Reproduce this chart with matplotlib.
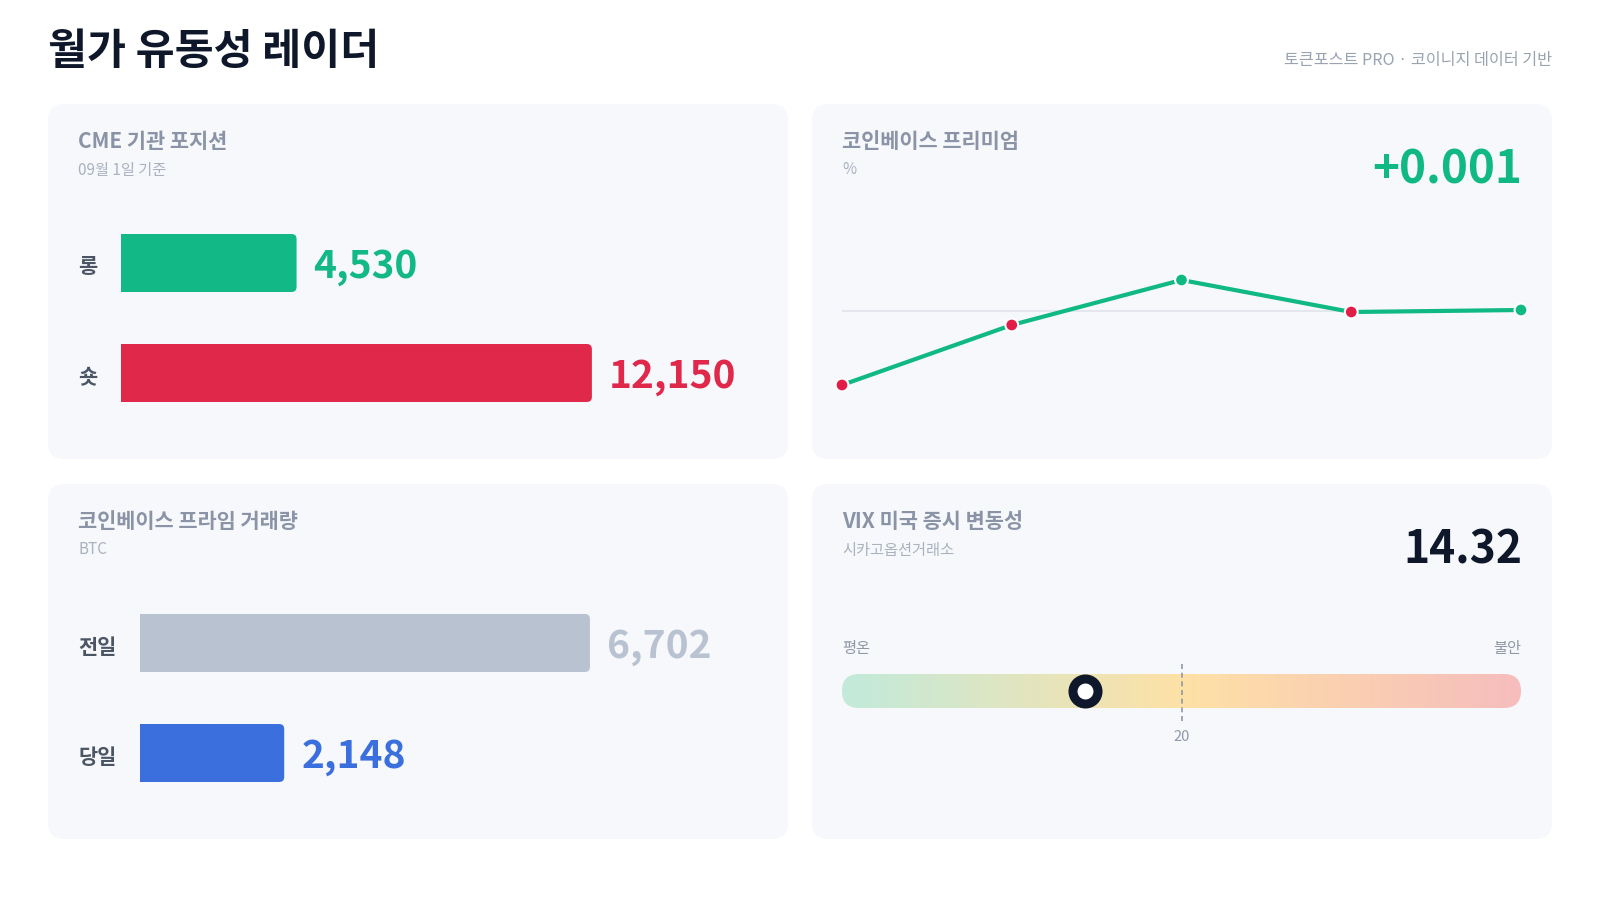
import numpy as np
import matplotlib.pyplot as plt
import matplotlib.transforms as mtransforms
from matplotlib.patches import FancyBboxPatch, Rectangle
from matplotlib.colors import LinearSegmentedColormap

plt.rcParams['font.family'] = ['Noto Sans CJK KR', 'DejaVu Sans']

W, H = 1600, 900

# data
title = '월가 유동성 레이더'
source = '토큰포스트 PRO · 코이니지 데이터 기반'

cme_title = 'CME 기관 포지션'
cme_sub = '09월 1일 기준'
cme_labels = ['롱', '숏']
cme_values = [4530, 12150]

prime_title = '코인베이스 프라임 거래량'
prime_sub = 'BTC'
prime_labels = ['전일', '당일']
prime_values = [6702, 2148]

prem_title = '코인베이스 프리미엄'
prem_sub = '%'
prem_values = [-0.074, -0.014, 0.031, -0.001, 0.001]
prem_latest = '+0.001'

vix_title = 'VIX 미국 증시 변동성'
vix_sub = '시카고옵션거래소'
vix_value = 14.32
vix_mid = 20
vix_lo, vix_hi = 0, 40
vix_ends = ['평온', '불안']

GREEN = '#12b886'
RED = '#e0284a'
NAVY = '#0f172a'
CARD = '#f6f8fc'
TITLE_C = '#8a94a6'
SUB_C = '#aab2bf'
LABEL_C = '#4b5563'
DY = 4  # CJK font sits a bit high with va='center'

fig = plt.figure(figsize=(16, 9), dpi=100)
fig.patch.set_facecolor('white')

bg = fig.add_axes([0, 0, 1, 1])
bg.set_xlim(0, W)
bg.set_ylim(H, 0)
bg.axis('off')


def px_axes(x0, y0, x1, y1):
    ax = fig.add_axes([x0 / W, 1 - y1 / H, (x1 - x0) / W, (y1 - y0) / H])
    ax.axis('off')
    ax.patch.set_alpha(0)
    return ax


def card(x, y, w, h, head, sub):
    bg.add_patch(FancyBboxPatch((x, y), w, h, boxstyle='round,pad=0,rounding_size=16',
                                fc=CARD, ec='none', zorder=0))
    bg.text(x + 30, y + 33 + DY, head, fontsize=15, fontweight='bold', color=TITLE_C, va='center')
    bg.text(x + 30, y + 62 + DY, sub, fontsize=11, color=SUB_C, va='center')


bg.text(48, 48 + DY, title, fontsize=30.5, fontweight='bold', color=NAVY, va='center')
bg.text(1552, 56 + DY, source, fontsize=11.7, color='#9aa3b2', va='center', ha='right')

card(48, 104, 740, 355, cme_title, cme_sub)
card(812, 104, 740, 355, prem_title, prem_sub)
card(48, 484, 740, 355, prime_title, prime_sub)
card(812, 484, 740, 355, vix_title, vix_sub)


def hbars(ax, labels, values, bar_colors, text_colors, x_px, scale):
    ax.set_ylim(1.5, -0.5)
    ax.set_xlim(0, max(values) * scale)
    bars = ax.barh(range(len(values)), values, height=0.527, color=bar_colors)
    fig.canvas.draw()
    bb = ax.get_window_extent()
    ux = (ax.get_xlim()[1] - ax.get_xlim()[0]) / bb.width
    uy = 2.0 / bb.height
    r = 5 * ux
    for b, c in zip(bars, bar_colors):
        x, y, w, h = b.get_x(), b.get_y(), b.get_width(), b.get_height()
        b.set_visible(False)
        ax.add_patch(FancyBboxPatch((x, y), w, h, boxstyle=f'round,pad=0,rounding_size={r}',
                                    mutation_aspect=uy / ux, fc=c, ec='none'))
        ax.add_patch(Rectangle((x, y), w / 2, h, fc=c, ec='none'))
    tr = mtransforms.blended_transform_factory(bg.transData, ax.transData)
    for i, (lab, v, tc) in enumerate(zip(labels, values, text_colors)):
        ax.annotate(lab, xy=(x_px, i), xycoords=tr, xytext=(0, -DY), textcoords='offset pixels',
                    fontsize=15, fontweight='bold', color=LABEL_C, va='center', ha='left')
        ax.annotate(f'{v:,}', xy=(v, i), xytext=(17, -DY), textcoords='offset pixels',
                    fontsize=28, fontweight='bold', color=tc, va='center', ha='left')


ax1 = px_axes(121, 208, 760, 428)
hbars(ax1, cme_labels, cme_values, [GREEN, RED], [GREEN, RED], 78, 1.357)

ax3 = px_axes(140, 588, 760, 808)
hbars(ax3, prime_labels, prime_values, ['#b8c2d1', '#3b6fde'], ['#b8c2d1', '#3b6fde'], 78, 1.378)

# premium line
ax2 = px_axes(842, 250, 1521, 430)
ax2.set_xlim(0, len(prem_values) - 1)
ax2.set_ylim(-0.119, 0.061)
xs = np.arange(len(prem_values))
ax2.axhline(0, color='#e4e7ee', lw=1.5, zorder=1)
ax2.plot(xs, prem_values, color='#10b981', lw=3, solid_capstyle='round', zorder=2, clip_on=False)
pc = ['#10b981' if v > 0 else '#e11d48' for v in prem_values]
ax2.scatter(xs, prem_values, s=85, c=pc, edgecolors='white', linewidths=1.5, zorder=3, clip_on=False)
bg.text(1522, 166 + DY, prem_latest, fontsize=33, fontweight='bold', color='#10b981', va='center', ha='right')

# VIX gauge
ax4 = px_axes(842, 674, 1521, 708)
ax4.set_xlim(vix_lo, vix_hi)
ax4.set_ylim(0, 1)
cmap = LinearSegmentedColormap.from_list('vix', ['#c2eadb', '#fee1a6', '#f6bdbd'])
grad = np.linspace(0, 1, 256)[None, :]
im = ax4.imshow(grad, extent=(vix_lo, vix_hi, 0, 1), aspect='auto', cmap=cmap, zorder=1)
fig.canvas.draw()
bb4 = ax4.get_window_extent()
ux4 = (vix_hi - vix_lo) / bb4.width
uy4 = 1.0 / bb4.height
clip = FancyBboxPatch((vix_lo, 0), vix_hi - vix_lo, 1,
                      boxstyle=f'round,pad=0,rounding_size={17 * ux4}',
                      mutation_aspect=uy4 / ux4, transform=ax4.transData, fc='none', ec='none')
ax4.add_patch(clip)
im.set_clip_path(clip)
ax4.axvline(vix_mid, ymin=-0.38, ymax=1.38, color='#8f98a8', lw=1.2, ls=(0, (3, 2.2)),
            clip_on=False, zorder=2)
ax4.annotate(str(vix_mid), xy=(vix_mid, 0), xytext=(0, -29), textcoords='offset pixels',
             fontsize=10.5, color='#8f98a8', ha='center', va='center')
ax4.plot(vix_value, 0.5, 'o', ms=18, mfc='white', mec=NAVY, mew=6.5, clip_on=False, zorder=3)
ax4.annotate(vix_ends[0], xy=(0, 1), xycoords='axes fraction', xytext=(0, 26),
             textcoords='offset pixels', fontsize=11, color='#8f98a8', ha='left', va='center')
ax4.annotate(vix_ends[1], xy=(1, 1), xycoords='axes fraction', xytext=(0, 26),
             textcoords='offset pixels', fontsize=11, color='#8f98a8', ha='right', va='center')
bg.text(1522, 546 + DY, f'{vix_value:.2f}', fontsize=32, fontweight='bold', color=NAVY, va='center', ha='right')

fig.savefig('out.png', dpi=100, facecolor='white')
